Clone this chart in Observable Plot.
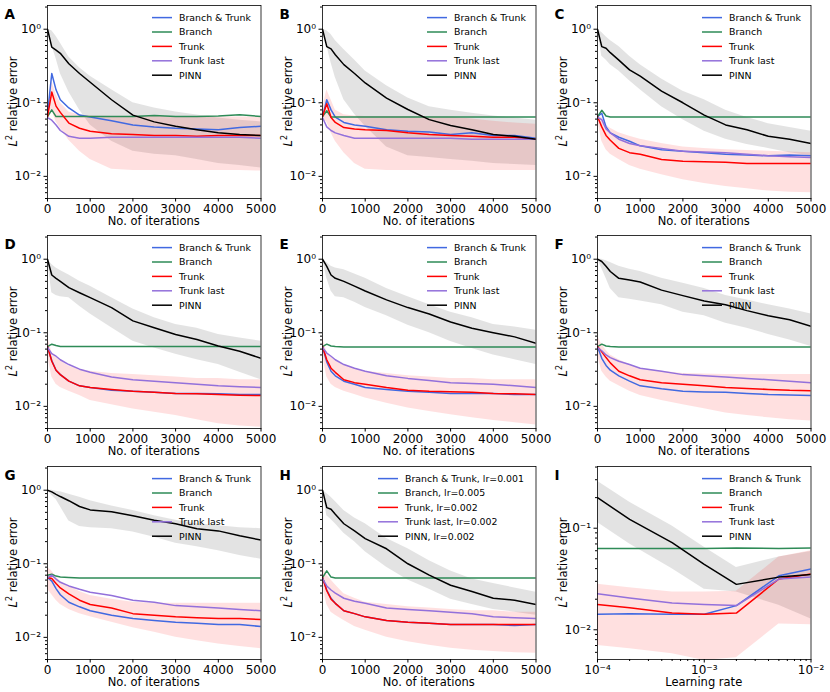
<!DOCTYPE html>
<html><head><meta charset="utf-8">
<script src="https://cdn.jsdelivr.net/npm/d3@7"></script>
<script src="https://cdn.jsdelivr.net/npm/@observablehq/plot@0.6"></script>
<style>
body{margin:0;background:#fff;}
#fig{position:relative;width:830px;height:692px;overflow:hidden;font-family:"DejaVu Sans";background:#fff;}
#fig svg{position:absolute;}
</style></head><body><div id="fig"></div>
<script>
// ---------- data ----------
const iters = [0,100,200,300,500,750,1000,1500,2000,2500,3000,3500,4000,4500,5000];
const learningRates = [1e-4,2e-4,5e-4,1e-3,2e-3,5e-3,1e-2];
const legendLabels = ["Branch & Trunk","Branch","Trunk","Trunk last","PINN"];
const legendLabelsH = ["Branch & Trunk, lr=0.001","Branch, lr=0.005","Trunk, lr=0.002","Trunk last, lr=0.002","PINN, lr=0.002"];
const iterTicks = [0,1000,2000,3000,4000,5000];
const lrTicks = [1e-4,1e-3,1e-2];
const lrMinor = [2e-4,3e-4,4e-4,5e-4,6e-4,7e-4,8e-4,9e-4,2e-3,3e-3,4e-3,5e-3,6e-3,7e-3,8e-3,9e-3];
const yMajorIter = [1e-2,1e-1,1];
const yMinorIter = [0.005,0.006,0.007,0.008,0.009,0.02,0.03,0.04,0.05,0.06,0.07,0.08,0.09,0.2,0.3,0.4,0.5,0.6,0.7,0.8,0.9,2];
const yMajorLr = [1e-2,1e-1];
const yMinorLr = [0.006,0.007,0.008,0.009,0.02,0.03,0.04,0.05,0.06,0.07,0.08,0.09,0.2,0.3,0.4];

// Panel A
const bt_A = [0.07,0.25,0.15,0.11,0.085,0.068,0.064,0.057,0.05,0.047,0.045,0.044,0.043,0.046,0.048];
const br_A = [0.065,0.08,0.065,0.065,0.065,0.065,0.065,0.065,0.065,0.067,0.065,0.065,0.066,0.069,0.065];
const tr_A = [0.065,0.14,0.09,0.074,0.053,0.045,0.041,0.038,0.037,0.036,0.036,0.035,0.036,0.036,0.036];
const tl_A = [0.063,0.058,0.05,0.042,0.035,0.033,0.033,0.034,0.034,0.034,0.034,0.034,0.034,0.034,0.033];
const pinn_A = [1.0,0.57,0.52,0.47,0.34,0.25,0.19,0.11,0.068,0.055,0.048,0.043,0.039,0.037,0.036];
const pinnHi_A = [1.0,0.95,0.8,0.65,0.42,0.3,0.23,0.15,0.1,0.085,0.075,0.068,0.062,0.058,0.055];
const pinnLo_A = [1.0,0.6,0.4,0.25,0.14,0.08,0.05,0.03,0.022,0.02,0.019,0.017,0.015,0.014,0.013];
const trHi_A = [0.075,0.2,0.13,0.1,0.075,0.068,0.066,0.065,0.065,0.065,0.065,0.065,0.064,0.064,0.064];
const trLo_A = [0.058,0.08,0.055,0.045,0.031,0.022,0.017,0.0125,0.012,0.012,0.012,0.012,0.012,0.012,0.0118];

// Panel B
const bt_B = [0.065,0.11,0.08,0.064,0.054,0.05,0.048,0.043,0.041,0.04,0.037,0.039,0.036,0.036,0.033];
const br_B = [0.065,0.078,0.064,0.064,0.064,0.064,0.064,0.064,0.064,0.064,0.064,0.064,0.064,0.064,0.064];
const tr_B = [0.065,0.097,0.063,0.054,0.046,0.044,0.043,0.042,0.039,0.037,0.036,0.035,0.034,0.034,0.032];
const tl_B = [0.063,0.047,0.042,0.039,0.036,0.033,0.033,0.033,0.033,0.033,0.033,0.032,0.032,0.032,0.032];
const pinn_B = [1.0,0.58,0.54,0.45,0.33,0.25,0.186,0.116,0.081,0.059,0.049,0.043,0.037,0.035,0.032];
const pinnHi_B = [1.0,0.95,0.85,0.7,0.53,0.38,0.27,0.17,0.116,0.088,0.079,0.072,0.066,0.062,0.058];
const pinnLo_B = [1.0,0.6,0.35,0.22,0.11,0.07,0.048,0.025,0.019,0.018,0.017,0.016,0.015,0.0145,0.014];
const trHi_B = [0.08,0.15,0.11,0.08,0.069,0.066,0.065,0.065,0.065,0.065,0.064,0.06,0.056,0.053,0.051];
const trLo_B = [0.06,0.055,0.039,0.03,0.021,0.015,0.0125,0.012,0.012,0.012,0.012,0.012,0.012,0.012,0.012];

// Panel C
const bt_C = [0.065,0.072,0.047,0.039,0.034,0.03,0.026,0.023,0.022,0.021,0.02,0.0195,0.019,0.0195,0.019];
const br_C = [0.065,0.079,0.066,0.064,0.064,0.064,0.064,0.064,0.064,0.064,0.064,0.064,0.064,0.064,0.064];
const tr_C = [0.065,0.047,0.036,0.031,0.024,0.021,0.02,0.017,0.016,0.0158,0.0155,0.015,0.015,0.015,0.015];
const tl_C = [0.063,0.059,0.044,0.039,0.032,0.028,0.026,0.024,0.022,0.0215,0.021,0.02,0.019,0.0185,0.018];
const pinn_C = [1.0,0.58,0.55,0.48,0.38,0.28,0.23,0.144,0.1,0.068,0.05,0.043,0.035,0.032,0.028];
const pinnHi_C = [1.0,0.9,0.79,0.7,0.58,0.43,0.33,0.21,0.144,0.11,0.079,0.063,0.052,0.046,0.041];
const pinnLo_C = [1.0,0.43,0.38,0.33,0.27,0.2,0.15,0.088,0.059,0.041,0.032,0.027,0.024,0.021,0.019];
const trHi_C = [0.065,0.063,0.05,0.045,0.039,0.035,0.032,0.028,0.025,0.024,0.023,0.0225,0.022,0.0215,0.021];
const trLo_C = [0.06,0.03,0.023,0.02,0.017,0.014,0.0125,0.0105,0.009,0.008,0.0073,0.0068,0.0063,0.0061,0.006];

// Panel D
const bt_D = [0.065,0.042,0.031,0.027,0.022,0.019,0.018,0.0165,0.016,0.0155,0.015,0.015,0.0148,0.0145,0.0145];
const br_D = [0.065,0.07,0.067,0.065,0.065,0.065,0.065,0.065,0.065,0.065,0.065,0.065,0.065,0.065,0.065];
const tr_D = [0.065,0.041,0.031,0.027,0.022,0.019,0.018,0.017,0.016,0.0155,0.015,0.0148,0.0145,0.0142,0.014];
const tl_D = [0.063,0.052,0.048,0.043,0.037,0.032,0.029,0.025,0.023,0.022,0.021,0.02,0.019,0.0185,0.018];
const pinn_D = [1.0,0.61,0.55,0.5,0.41,0.35,0.3,0.22,0.145,0.117,0.095,0.081,0.066,0.056,0.045];
const pinnHi_D = [1.0,0.85,0.76,0.7,0.61,0.5,0.43,0.3,0.21,0.16,0.13,0.115,0.095,0.085,0.077];
const pinnLo_D = [1.0,0.35,0.32,0.31,0.3,0.23,0.18,0.117,0.077,0.062,0.051,0.043,0.037,0.029,0.023];
const trHi_D = [0.09,0.055,0.046,0.042,0.035,0.032,0.03,0.028,0.027,0.026,0.025,0.024,0.024,0.023,0.023];
const trLo_D = [0.05,0.025,0.02,0.018,0.016,0.014,0.012,0.0105,0.0092,0.0083,0.0075,0.0066,0.0058,0.0054,0.0052];

// Panel E
const bt_E = [0.065,0.04,0.03,0.026,0.022,0.02,0.018,0.017,0.016,0.0155,0.015,0.015,0.015,0.0145,0.0145];
const br_E = [0.065,0.07,0.066,0.065,0.064,0.064,0.064,0.064,0.064,0.064,0.064,0.064,0.064,0.064,0.064];
const tr_E = [0.065,0.043,0.033,0.029,0.023,0.021,0.02,0.018,0.0165,0.016,0.0158,0.0155,0.015,0.0148,0.0145];
const tl_E = [0.063,0.053,0.048,0.043,0.037,0.033,0.03,0.026,0.024,0.0225,0.021,0.0205,0.02,0.019,0.018];
const pinn_E = [1.0,0.8,0.61,0.55,0.5,0.43,0.37,0.28,0.22,0.18,0.14,0.115,0.1,0.088,0.072];
const pinnHi_E = [1.0,0.9,0.8,0.76,0.72,0.63,0.55,0.4,0.31,0.24,0.19,0.16,0.13,0.12,0.108];
const pinnLo_E = [1.0,0.55,0.37,0.31,0.3,0.26,0.22,0.17,0.127,0.1,0.076,0.061,0.05,0.043,0.037];
const trHi_E = [0.09,0.055,0.046,0.042,0.037,0.033,0.03,0.028,0.026,0.025,0.024,0.024,0.023,0.023,0.023];
const trLo_E = [0.05,0.025,0.02,0.018,0.016,0.0145,0.013,0.011,0.0095,0.0085,0.0077,0.007,0.0064,0.006,0.0056];

// Panel F
const bt_F = [0.065,0.045,0.036,0.031,0.026,0.022,0.019,0.0173,0.016,0.0157,0.0155,0.015,0.0145,0.0143,0.014];
const br_F = [0.065,0.07,0.066,0.065,0.064,0.064,0.064,0.064,0.064,0.064,0.064,0.064,0.064,0.064,0.064];
const tr_F = [0.065,0.055,0.046,0.039,0.03,0.026,0.023,0.021,0.02,0.019,0.018,0.0175,0.017,0.0165,0.0163];
const tl_F = [0.063,0.057,0.05,0.046,0.041,0.037,0.033,0.03,0.027,0.026,0.025,0.024,0.023,0.022,0.021];
const pinn_F = [1.0,0.93,0.8,0.68,0.55,0.52,0.49,0.38,0.32,0.27,0.24,0.2,0.17,0.15,0.123];
const pinnHi_F = [1.0,1.0,0.95,0.9,0.8,0.73,0.68,0.55,0.47,0.4,0.32,0.28,0.24,0.21,0.18];
const pinnLo_F = [1.0,0.75,0.55,0.4,0.3,0.285,0.27,0.24,0.19,0.17,0.135,0.115,0.095,0.08,0.065];
const trHi_F = [0.09,0.07,0.058,0.05,0.043,0.037,0.033,0.03,0.028,0.0275,0.027,0.027,0.027,0.027,0.027];
const trLo_F = [0.05,0.03,0.025,0.022,0.019,0.016,0.014,0.012,0.0105,0.0093,0.0081,0.0075,0.007,0.0066,0.0063];

// Panel G
const bt_G = [0.065,0.058,0.046,0.038,0.03,0.026,0.023,0.02,0.018,0.017,0.016,0.0155,0.015,0.015,0.014];
const br_G = [0.07,0.072,0.068,0.066,0.065,0.064,0.064,0.064,0.064,0.064,0.064,0.064,0.064,0.064,0.064];
const tr_G = [0.065,0.063,0.054,0.047,0.039,0.032,0.028,0.025,0.021,0.02,0.019,0.0185,0.018,0.018,0.0175];
const tl_G = [0.065,0.07,0.062,0.056,0.05,0.045,0.041,0.037,0.032,0.03,0.027,0.026,0.025,0.024,0.023];
const pinn_G = [1.0,0.95,0.88,0.82,0.72,0.6,0.54,0.51,0.45,0.39,0.35,0.3,0.28,0.24,0.21];
const pinnHi_G = [1.0,1.0,0.97,0.95,0.88,0.8,0.72,0.61,0.53,0.45,0.39,0.35,0.33,0.31,0.3];
const pinnLo_G = [1.0,0.85,0.75,0.6,0.38,0.32,0.31,0.3,0.27,0.23,0.19,0.17,0.15,0.13,0.115];
const trHi_G = [0.09,0.08,0.066,0.058,0.05,0.042,0.037,0.033,0.03,0.029,0.029,0.029,0.029,0.029,0.029];
const trLo_G = [0.045,0.038,0.032,0.028,0.024,0.021,0.019,0.016,0.0135,0.0117,0.01,0.009,0.0081,0.0075,0.007];

// Panel H
const bt_H = [0.065,0.044,0.034,0.029,0.023,0.021,0.019,0.017,0.016,0.0155,0.015,0.015,0.015,0.0145,0.015];
const br_H = [0.065,0.08,0.066,0.064,0.064,0.064,0.064,0.064,0.064,0.064,0.064,0.064,0.064,0.064,0.064];
const tr_H = [0.065,0.043,0.033,0.029,0.023,0.021,0.019,0.017,0.016,0.0155,0.015,0.015,0.015,0.015,0.015];
const tl_H = [0.063,0.05,0.044,0.04,0.034,0.031,0.029,0.025,0.024,0.023,0.022,0.021,0.019,0.0185,0.018];
const pinn_H = [1.0,0.58,0.55,0.47,0.35,0.28,0.22,0.16,0.1,0.07,0.051,0.042,0.034,0.032,0.028];
const pinnHi_H = [1.0,0.9,0.8,0.7,0.53,0.42,0.35,0.22,0.16,0.11,0.08,0.062,0.054,0.047,0.041];
const pinnLo_H = [1.0,0.45,0.4,0.35,0.26,0.2,0.146,0.09,0.06,0.045,0.033,0.028,0.024,0.022,0.02];
const trHi_H = [0.09,0.07,0.06,0.052,0.039,0.034,0.03,0.028,0.026,0.025,0.024,0.023,0.023,0.022,0.022];
const trLo_H = [0.05,0.028,0.022,0.02,0.017,0.014,0.0125,0.01,0.0087,0.0078,0.0071,0.0067,0.0064,0.0062,0.0061];

// Panel I (vs learning rate)
const bt_I = [0.0142,0.0144,0.0142,0.0142,0.0173,0.034,0.0397];
const br_I = [0.063,0.063,0.063,0.063,0.064,0.063,0.064];
const tr_I = [0.0177,0.0165,0.0146,0.0142,0.0146,0.0316,0.0354];
const tl_I = [0.0226,0.0206,0.0184,0.0177,0.0173,0.0316,0.033];
const pinn_I = [0.2,0.122,0.072,0.044,0.028,0.033,0.035];
const pinnHi_I = [0.29,0.18,0.105,0.065,0.041,0.052,0.059];
const pinnLo_I = [0.114,0.07,0.04,0.025,0.0235,0.0174,0.0128];
const trHi_I = [0.028,0.026,0.0235,0.0235,0.024,0.052,0.06];
const trLo_I = [0.007,0.0065,0.0058,0.005,0.0053,0.0114,0.0112];

const seriesColors = ["#4169E1","#2E8B57","#FF0000","#9370DB","#000000"];

// ---------- layout ----------
const colLeft = [46.7, 321.5, 597];
const rowTop = [5, 234.7, 466];
const FW = 213.5, FH = 193;
const ML = 50, MR = 14, MT = 8, MB = 36;

const sup = s => String(s).replace(/[-0-9]/g, c => ({"-":"\u207B","0":"\u2070","1":"\u00B9","2":"\u00B2","3":"\u00B3","4":"\u2074","5":"\u2075","6":"\u2076","7":"\u2077","8":"\u2078","9":"\u2079"})[c]);
const logFmt = d => "10" + sup(Math.round(Math.log10(d)));

function mk(letter, col, row, x, bt, br, tr, tl, pinn, pLo, pHi, tLo, tHi, opts = {}) {
  return {letter, col, row, x, bt, br, tr, tl, pinn, pLo, pHi, tLo, tHi, ...opts};
}
const panels = [
  mk("A",0,0,iters,bt_A,br_A,tr_A,tl_A,pinn_A,pinnLo_A,pinnHi_A,trLo_A,trHi_A),
  mk("B",1,0,iters,bt_B,br_B,tr_B,tl_B,pinn_B,pinnLo_B,pinnHi_B,trLo_B,trHi_B),
  mk("C",2,0,iters,bt_C,br_C,tr_C,tl_C,pinn_C,pinnLo_C,pinnHi_C,trLo_C,trHi_C),
  mk("D",0,1,iters,bt_D,br_D,tr_D,tl_D,pinn_D,pinnLo_D,pinnHi_D,trLo_D,trHi_D),
  mk("E",1,1,iters,bt_E,br_E,tr_E,tl_E,pinn_E,pinnLo_E,pinnHi_E,trLo_E,trHi_E),
  mk("F",2,1,iters,bt_F,br_F,tr_F,tl_F,pinn_F,pinnLo_F,pinnHi_F,trLo_F,trHi_F),
  mk("G",0,2,iters,bt_G,br_G,tr_G,tl_G,pinn_G,pinnLo_G,pinnHi_G,trLo_G,trHi_G),
  mk("H",1,2,iters,bt_H,br_H,tr_H,tl_H,pinn_H,pinnLo_H,pinnHi_H,trLo_H,trHi_H,{labels: legendLabelsH, legendX: 56}),
  mk("I",2,2,learningRates,bt_I,br_I,tr_I,tl_I,pinn_I,pinnLo_I,pinnHi_I,trLo_I,trHi_I,{lr: true})
];

const fig = document.getElementById("fig");
const keys = ["bt","br","tr","tl","pinn"];

for (const p of panels) {
  const rows = p.x.map((x, i) => ({x, bt: p.bt[i], br: p.br[i], tr: p.tr[i], tl: p.tl[i], pinn: p.pinn[i],
    pLo: p.pLo[i], pHi: p.pHi[i], tLo: p.tLo[i], tHi: p.tHi[i]}));
  const lr = !!p.lr;
  const chart = Plot.plot({
    width: FW + ML + MR, height: FH + MT + MB,
    marginLeft: ML, marginRight: MR, marginTop: MT, marginBottom: MB,
    x: lr ? {type: "log", domain: [1e-4, 1e-2]} : {type: "linear", domain: [0, 5000]},
    y: {type: "log", domain: lr ? [0.0051, 0.405] : [0.005, 2.1]},
    style: {fontFamily: "DejaVu Sans", fontSize: "12px", color: "black", background: "transparent", overflow: "visible"},
    marks: [
      Plot.areaY(rows, {x: "x", y1: "pLo", y2: "pHi", fill: "#808080", fillOpacity: 0.22, clip: true}),
      Plot.areaY(rows, {x: "x", y1: "tLo", y2: "tHi", fill: "#ff0000", fillOpacity: 0.12, clip: true}),
      ...keys.map((k, j) => Plot.line(rows, {x: "x", y: k, stroke: seriesColors[j], strokeWidth: 1.5, clip: true})),
      Plot.axisX(lr ? lrTicks : iterTicks, {tickSize: 3.5, tickPadding: 2, label: null,
        tickFormat: lr ? logFmt : (d => String(d))}),
      lr ? Plot.axisX(lrMinor, {tickSize: 2, tickFormat: () => "", label: null}) : null,
      Plot.axisY(lr ? yMajorLr : yMajorIter, {tickSize: 3.5, tickPadding: 3, label: null, tickFormat: logFmt}),
      Plot.axisY(lr ? yMinorLr : yMinorIter, {tickSize: 2, tickFormat: () => "", label: null}),
      Plot.frame({stroke: "black", strokeWidth: 0.8})
    ]
  });
  const fl = colLeft[p.col], ft = rowTop[p.row];
  chart.style.left = (fl - ML) + "px";
  chart.style.top = (ft - MT) + "px";
  fig.appendChild(chart);

  const svg = d3.select(chart);
  const g = svg.append("g").attr("transform", `translate(${ML},${MT})`)
    .attr("font-family", "DejaVu Sans").attr("text-anchor", "start");

  // legend
  const labels = p.labels || legendLabels;
  const lx = p.legendX || 105;
  labels.forEach((lab, i) => {
    const y = 12.6 + i * 14.4;
    g.append("line").attr("x1", lx).attr("x2", lx + 20).attr("y1", y).attr("y2", y)
      .attr("stroke", seriesColors[i]).attr("stroke-width", 1.5);
    g.append("text").attr("x", lx + 27).attr("y", y).attr("dy", "0.36em").attr("text-anchor", "start")
      .attr("font-size", 9.4).attr("fill", "black").text(lab);
  });

  // x label
  g.append("text").attr("x", FW / 2).attr("y", FH + 26.5).attr("text-anchor", "middle")
    .attr("font-size", 11.5).attr("fill", "black").text(lr ? "Learning rate" : "No. of iterations");

  // y label
  const yl = g.append("text").attr("transform", `translate(-30.5,${FH / 2}) rotate(-90)`)
    .attr("text-anchor", "middle").attr("font-size", 11.5).attr("fill", "black");
  yl.append("tspan").attr("font-style", "italic").text("L");
  yl.append("tspan").attr("font-size", 8).attr("dy", -4.5).text("2");
  yl.append("tspan").attr("dy", 4.5).text(" relative error");

  // panel letter
  g.append("text").attr("x", -42.5).attr("y", 13.5).attr("text-anchor", "start").attr("font-size", 13.5)
    .attr("font-weight", "bold").attr("fill", "black").text(p.letter);
}
</script>
</body></html>
